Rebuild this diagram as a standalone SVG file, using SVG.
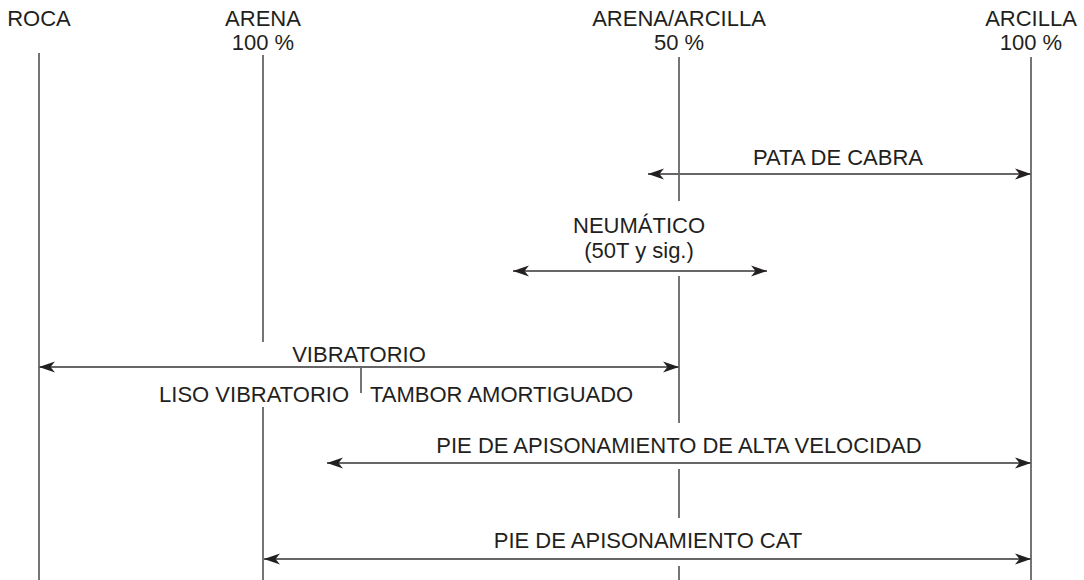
<svg xmlns="http://www.w3.org/2000/svg" width="1084" height="580" viewBox="0 0 1084 580">
  <style>
    .t { font-family: "Liberation Sans", Arial, sans-serif; font-size: 22px; fill: #231f20; }
    .c { text-anchor: middle; }
    .e { text-anchor: end; }
    .v { stroke: #666666; stroke-width: 1.8; fill: none; }
    .a { stroke: #666666; stroke-width: 1.8; fill: none; marker-start: url(#ah); marker-end: url(#ah); }
  </style>
  <defs>
    <marker id="ah" viewBox="-17 -6 18 12" refX="0" refY="0" markerWidth="18" markerHeight="12" markerUnits="userSpaceOnUse" orient="auto-start-reverse">
      <path d="M0,0 L-16,-5.5 L-11.5,0 L-16,5.5 Z" fill="#231f20"/>
    </marker>
  </defs>
  <rect width="1084" height="580" fill="#ffffff"/>

  <g id="col-roca">
    <text class="t c" x="39" y="26">ROCA</text>
    <line class="v" x1="39" y1="53" x2="39" y2="580"/>
  </g>
  <g id="col-arena">
    <text class="t c" x="263" y="26">ARENA</text>
    <text class="t c" x="263" y="50">100 %</text>
    <line class="v" x1="263" y1="55" x2="263" y2="342"/>
    <line class="v" x1="263" y1="407" x2="263" y2="580"/>
  </g>
  <g id="col-arena-arcilla">
    <text class="t c" x="679" y="26">ARENA/ARCILLA</text>
    <text class="t c" x="679" y="50">50 %</text>
    <line class="v" x1="679" y1="57" x2="679" y2="201"/>
    <line class="v" x1="679" y1="276" x2="679" y2="423"/>
    <line class="v" x1="679" y1="469" x2="679" y2="518"/>
    <line class="v" x1="679" y1="566" x2="679" y2="580"/>
  </g>
  <g id="col-arcilla">
    <text class="t c" x="1031" y="26">ARCILLA</text>
    <text class="t c" x="1031" y="50">100 %</text>
    <line class="v" x1="1031" y1="57" x2="1031" y2="580"/>
  </g>

  <g id="label-pata">
    <text class="t c" x="838" y="165">PATA DE CABRA</text>
  </g>
  <g id="label-neumatico">
    <text class="t c" x="639" y="233">NEUMÁTICO</text>
    <text class="t c" x="639" y="258">(50T y sig.)</text>
  </g>
  <g id="label-vibratorio">
    <text class="t c" x="359" y="362">VIBRATORIO</text>
    <text class="t e" x="349" y="402">LISO VIBRATORIO</text>
    <text class="t" x="370" y="402">TAMBOR AMORTIGUADO</text>
  </g>
  <g id="label-alta">
    <text class="t c" x="679" y="453">PIE DE APISONAMIENTO DE ALTA VELOCIDAD</text>
  </g>
  <g id="label-cat">
    <text class="t c" x="648" y="548">PIE DE APISONAMIENTO CAT</text>
  </g>

  <g id="connectors">
    <line class="a" x1="648" y1="174" x2="1031" y2="174"/>
    <line class="a" x1="513" y1="271" x2="767" y2="271"/>
    <line class="a" x1="39" y1="367" x2="679" y2="367"/>
    <line class="v" x1="361" y1="367" x2="361" y2="393"/>
    <line class="a" x1="327" y1="463" x2="1031" y2="463"/>
    <line class="a" x1="264" y1="559" x2="1031" y2="559"/>
  </g>
</svg>
